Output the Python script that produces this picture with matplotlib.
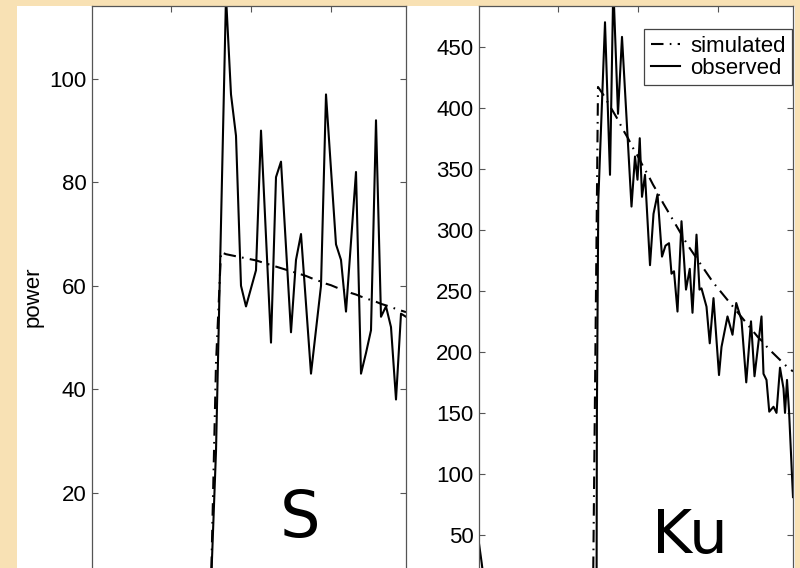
import numpy as np
import matplotlib
matplotlib.use("Agg")
import matplotlib.pyplot as plt
from matplotlib.patches import Rectangle

plt.rcParams['font.family'] = ['Liberation Sans', 'DejaVu Sans']

# ---------------- data ----------------
# S band (left panel): range-bin index, observed and simulated power
s_x = np.arange(22, 64)
s_observed = [0.5, 1, 2, 28, 72, 116, 97, 89, 60, 56,
              59.5, 63, 90, 69.5, 49, 81, 84, 67.5, 51, 65,
              70, 56.5, 43, 51.5, 60, 97, 82.5, 68, 65, 55,
              68.5, 82, 43, 47, 51.4, 92, 54, 56, 52, 38,
              54.6, 54]
s_simulated = [0, 0.5, 2, 45, 66.5, 66.1, 65.9, 65.7, 65.5, 65.3,
               65.1, 64.9, 64.6, 64.3, 64.0, 63.7, 63.4, 63.1, 62.8, 62.5,
               62.2, 61.9, 61.5, 61.1, 60.8, 60.4, 60.1, 59.7, 59.3, 59.0,
               58.6, 58.3, 57.9, 57.6, 57.2, 56.9, 56.5, 56.2, 55.9, 55.5,
               55.2, 54.9]

# Ku band (right panel)
ku_sim_x = np.arange(22, 64)
ku_simulated = [0, 0, 417, 411, 404, 397, 390, 382, 375, 367,
                360, 352, 345, 337, 330, 322, 315, 308, 301, 294,
                287, 281, 275, 269, 263, 257, 252, 247, 242, 237,
                232, 227, 222, 217, 212, 208, 203, 199, 195, 191,
                187, 184]
ku_obs_x = [0.0, 0.74, 1.3, 2.0, 23.0, 23.72, 23.78, 24.06, 25.4, 26.4,
            27.06, 28.0, 28.8, 30.7, 31.4, 31.9, 32.35, 32.8, 33.4, 34.4,
            35.1, 35.9, 36.8, 37.5, 38.2, 38.7, 39.2, 39.9, 40.7, 41.6,
            42.35, 42.9, 43.7, 44.3, 44.7, 45.7, 46.35, 47.1, 48.2, 48.7,
            49.9, 50.9, 51.65, 52.7, 53.65, 54.6, 55.3, 56.7, 57.1, 57.7,
            58.25, 59.1, 59.7, 60.4, 61.1, 61.4, 61.8, 62.2, 63.0]
ku_observed = [49, 27, 8, 3, 4, 15, 150, 324, 470, 345,
               500, 395, 458, 319, 360, 341, 375, 327, 345, 271,
               313, 329, 278, 287, 289, 264, 266, 233, 307, 251,
               268, 232, 296, 251, 252, 237, 207, 244, 181, 204,
               229, 214, 240, 226, 175, 225, 180, 229, 182, 177,
               151, 155, 150, 187, 170, 150, 177, 152, 81]

s_yticks = [20, 40, 60, 80, 100]
ku_yticks = [50, 100, 150, 200, 250, 300, 350, 400, 450]
x_ticks = [16, 32, 48]

# ---------------- figure ----------------
W, H = 800, 568
fig = plt.figure(figsize=(W / 100, H / 100), dpi=100)
fig.patch.set_facecolor('#F8E1B4')
fig.add_artist(Rectangle((17 / W, 0), (795 - 17) / W, (H - 5.5) / H,
                         transform=fig.transFigure, facecolor='white',
                         edgecolor='none', zorder=-10))

bottom = (H - 596) / H
height = (596 - 6) / H
ax1 = fig.add_axes([92 / W, bottom, 314 / W, height])
ax2 = fig.add_axes([479 / W, bottom, 314 / W, height])

dashdot = (0, (6, 3, 0.8, 3))
lw = 1.5

ax1.plot(s_x, s_simulated, color='black', lw=lw, linestyle=dashdot)
ax1.plot(s_x, s_observed, color='black', lw=lw, linestyle='-')
ax1.set_ylim(0, 114.1)
ax1.set_yticks(s_yticks)

l1, = ax2.plot(ku_sim_x, ku_simulated, color='black', lw=lw, linestyle=dashdot,
               label='simulated')
l2, = ax2.plot(ku_obs_x, ku_observed, color='black', lw=lw, linestyle='-',
               label='observed')
ax2.set_ylim(0, 483.3)
ax2.set_yticks(ku_yticks)

for ax in (ax1, ax2):
    ax.set_xlim(0.2, 63)
    ax.set_xticks(x_ticks)
    ax.set_xticklabels([])
    ax.tick_params(direction='in', length=4, width=0.8, color='#555555',
                   labelsize=16, pad=4, top=True, right=True,
                   bottom=True, left=True)
    for sp in ax.spines.values():
        sp.set_color('#555555')
        sp.set_linewidth(0.9)

leg = ax2.legend(handles=[l1, l2], loc='upper right',
                 bbox_to_anchor=(0.997, 0.961), borderaxespad=0,
                 fontsize=16, handlelength=1.3, handletextpad=0.45,
                 borderpad=0.3, labelspacing=0.05, fancybox=False,
                 framealpha=1, edgecolor='#444444')
leg.get_frame().set_linewidth(0.9)

fig.text(33 / W, 1 - 297 / H, 'power', rotation=90, ha='center',
         va='center', fontsize=16)
fig.text(300 / W, 1 - 537 / H, 'S', ha='center', va='baseline',
         fontsize=46, family=['DejaVu Sans'])
fig.text(690 / W, 1 - 553 / H, 'Ku', ha='center', va='baseline',
         fontsize=44, family=['DejaVu Sans'])

fig.savefig('out.png', dpi=100, facecolor=fig.get_facecolor())
